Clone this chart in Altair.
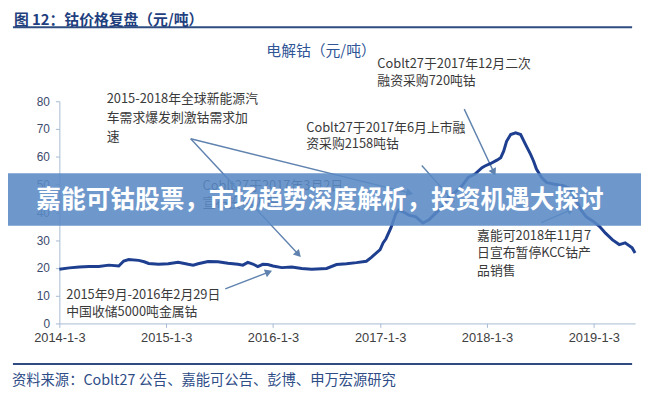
import altair as alt
import pandas as pd

# ---- series data (electrolytic cobalt price, axis unit as printed) ----
dates = [
    "2014-01-03", "2014-02-06", "2014-03-12", "2014-04-14", "2014-05-18", "2014-06-21",
    "2014-07-25", "2014-08-11", "2014-08-28", "2014-10-01", "2014-10-20", "2014-11-04",
    "2014-12-08", "2015-01-10", "2015-02-13", "2015-03-19", "2015-04-05", "2015-04-22",
    "2015-05-26", "2015-06-29", "2015-08-02", "2015-09-05", "2015-09-22", "2015-10-09",
    "2015-10-26", "2015-11-12", "2015-11-29", "2015-12-16", "2016-01-03", "2016-02-02",
    "2016-03-07", "2016-04-10", "2016-05-14", "2016-05-31", "2016-07-04", "2016-08-07",
    "2016-09-10", "2016-10-14", "2016-11-17", "2016-12-04", "2017-01-03", "2017-01-13",
    "2017-01-23", "2017-02-09", "2017-02-26", "2017-03-08", "2017-03-22", "2017-04-11",
    "2017-05-05", "2017-05-29", "2017-06-18", "2017-07-12", "2017-08-04", "2017-08-25",
    "2017-09-17", "2017-10-10", "2017-10-31", "2017-11-23", "2017-12-17", "2017-12-27",
    "2018-01-16", "2018-02-06", "2018-02-19", "2018-03-01", "2018-03-11", "2018-03-25",
    "2018-04-11", "2018-04-28", "2018-05-15", "2018-06-01", "2018-06-11", "2018-06-21",
    "2018-07-08", "2018-07-25", "2018-08-18", "2018-09-21", "2018-10-15", "2018-11-04",
    "2018-11-21", "2018-12-08", "2019-01-03", "2019-01-23", "2019-02-12", "2019-03-08",
    "2019-03-31", "2019-04-20", "2019-05-14", "2019-05-24",
]
prices = [
    19.5, 20.0, 20.3, 20.5, 20.5, 21.0,
    20.7, 22.5, 23.0, 22.7, 22.2, 21.6,
    21.3, 21.5, 22.0, 21.3, 21.0, 21.5,
    22.3, 22.2, 21.7, 21.3, 21.0, 22.0,
    21.4, 20.5, 21.3, 21.2, 20.7, 20.1,
    20.3, 19.8, 19.5, 19.6, 19.8, 21.2,
    21.5, 21.9, 22.4, 23.8, 26.6, 29.0,
    30.5, 34.5, 39.7, 40.8, 40.2, 39.0,
    38.4, 36.2, 37.2, 39.7, 42.0, 45.5,
    47.3, 49.6, 52.6, 53.8, 56.1, 56.7,
    57.6, 58.8, 59.7, 62.0, 65.6, 68.0,
    68.6, 68.0, 64.4, 60.9, 58.5, 55.6,
    52.6, 50.8, 50.2, 49.6, 48.5, 44.3,
    40.8, 38.4, 36.6, 34.9, 32.5, 30.1,
    28.4, 29.0, 27.2, 25.4,
]
tick_years = [2014, 2015, 2016, 2017, 2018, 2019]
y_ticks = [0, 10, 20, 30, 40, 50, 60, 70, 80]

header_title = "图 12：钴价格复盘（元/吨）"
chart_title = "电解钴（元/吨）"
banner_text = "嘉能可钴股票，市场趋势深度解析，投资机遇大探讨"
source_text = "资料来源：Coblt27 公告、嘉能可公告、彭博、申万宏源研究"

note_lines = [
    "2015-2018年全球新能源汽", "车需求爆发刺激钴需求加", "速",
    "Coblt27于2017年3月2日", "宣布投资入股",
    "2015年9月-2016年2月29日", "中国收储5000吨金属钴",
    "Coblt27于2017年6月上市融", "资采购2158吨钴",
    "Coblt27于2017年12月二次", "融资采购720吨钴",
    "嘉能可2018年11月7", "日宣布暂停KCC钴产", "品销售",
]
# layout (pixel positions relative to the plot area)
note_px = [48, 48, 48, 145, 145, 7, 7, 250, 250, 322, 322, 423, 423, 423]
note_py = [-2, 17, 36, 86, 103, 196, 213, 27, 43, -38, -20, 136, 154, 172]

arrow_x1 = [133, 133, 168, 367, 410, 488]
arrow_y1 = [38, 38, 190, 65, 8, 123]
arrow_x2 = [242, 355, 212, 398, 440, 518]
arrow_y2 = [155, 93, 173, 100, 72, 110]
arrow_ang = [47, 14, 339, 48, 64, 336]

W, H = 583, 225
FONT_CJK = "Noto Sans CJK SC"

df = pd.DataFrame({"date": dates, "price": prices})

line = alt.Chart(df).mark_line(color="#1E3F8F", strokeWidth=3, clip=False).encode(
    x=alt.X(
        "date:T",
        scale=alt.Scale(type="utc", domain=[alt.DateTime(year=2014, month=1, date=3, utc=True),
                                            alt.DateTime(year=2019, month=5, date=24, utc=True)]),
        axis=alt.Axis(
            title=None,
            values=[alt.DateTime(year=y, month=1, date=3, utc=True) for y in tick_years],
            labelExpr="utcyear(datum.value) + '-' + (utcmonth(datum.value) + 1) + '-' + utcdate(datum.value)",
            grid=False,
            domainColor="#A7BAD2",
            tickColor="#A7BAD2",
            tickSize=4,
            labelFont="Liberation Sans",
            labelFontSize=13,
            labelColor="#404040",
            labelPadding=4,
            labelFlush=False,
        ),
    ),
    y=alt.Y(
        "price:Q",
        scale=alt.Scale(domain=[0, 80], nice=False),
        axis=alt.Axis(
            title=None,
            values=y_ticks,
            grid=False,
            domainColor="#A7BAD2",
            tickColor="#A7BAD2",
            tickSize=4,
            labelFont="Liberation Sans",
            labelFontSize=12,
            labelColor="#3B4A6B",
            labelPadding=6,
        ),
    ),
)

notes_df = pd.DataFrame({"t": note_lines, "px": note_px, "py": note_py})
notes = alt.Chart(notes_df).mark_text(
    align="left", baseline="middle", font=FONT_CJK, fontSize=13, color="#3A3A3A"
).encode(
    x=alt.X("px:Q", scale=None, axis=None),
    y=alt.Y("py:Q", scale=None, axis=None),
    text="t:N",
)

arr_df = pd.DataFrame({"x1": arrow_x1, "y1": arrow_y1, "x2": arrow_x2, "y2": arrow_y2, "ang": arrow_ang})
arrows = alt.Chart(arr_df).mark_rule(color="#5F82AE", strokeWidth=1.4).encode(
    x=alt.X("x1:Q", scale=None, axis=None),
    y=alt.Y("y1:Q", scale=None, axis=None),
    x2="x2:Q",
    y2="y2:Q",
)
heads = alt.Chart(arr_df).mark_point(
    shape="triangle-right", filled=True, color="#5F82AE", opacity=1, size=70
).encode(
    x=alt.X("x2:Q", scale=None, axis=None),
    y=alt.Y("y2:Q", scale=None, axis=None),
    angle=alt.Angle("ang:Q", scale=None),
)

deco_lines = pd.DataFrame({"x1": [-47, -47], "x2": [580, 580], "y1": [-75, 266], "y2": [-75, 266]})
rules = alt.Chart(deco_lines).mark_rule(color="#2E4C80", strokeWidth=2).encode(
    x=alt.X("x1:Q", scale=None, axis=None),
    x2="x2:Q",
    y=alt.Y("y1:Q", scale=None, axis=None),
)

banner_df = pd.DataFrame({"x1": [-60], "x2": [590], "y1": [73], "y2": [126]})
banner = alt.Chart(banner_df).mark_rect(color="#5A8AC5", opacity=0.88).encode(
    x=alt.X("x1:Q", scale=None, axis=None),
    x2="x2:Q",
    y=alt.Y("y1:Q", scale=None, axis=None),
    y2="y2:Q",
)

header = alt.Chart(pd.DataFrame({"t": [header_title], "px": [-46], "py": [-82]})).mark_text(
    align="left", baseline="middle", font=FONT_CJK, fontSize=15, fontWeight="bold", color="#1F3F7F"
).encode(x=alt.X("px:Q", scale=None, axis=None), y=alt.Y("py:Q", scale=None, axis=None), text="t:N")

ctitle = alt.Chart(pd.DataFrame({"t": [chart_title], "px": [265], "py": [-51]})).mark_text(
    align="center", baseline="middle", font=FONT_CJK, fontSize=15, color="#2F5597"
).encode(x=alt.X("px:Q", scale=None, axis=None), y=alt.Y("py:Q", scale=None, axis=None), text="t:N")

source = alt.Chart(pd.DataFrame({"t": [source_text], "px": [-48], "py": [283]})).mark_text(
    align="left", baseline="middle", font=FONT_CJK, fontSize=14.5, color="#2E4C86"
).encode(x=alt.X("px:Q", scale=None, axis=None), y=alt.Y("py:Q", scale=None, axis=None), text="t:N")

btext = alt.Chart(pd.DataFrame({"t": [banner_text], "px": [264], "py": [100]})).mark_text(
    align="center", baseline="middle", font=FONT_CJK, fontSize=25, fontWeight="bold", color="#FFFFFF"
).encode(x=alt.X("px:Q", scale=None, axis=None), y=alt.Y("py:Q", scale=None, axis=None), text="t:N")

chart = alt.layer(
    rules, header, ctitle, source, notes, arrows, heads, line, banner, btext
).resolve_scale(x="independent", y="independent").properties(
    width=W,
    height=H,
    autosize=alt.AutoSizeParams(type="none"),
    padding={"left": 52, "top": 92, "right": 6, "bottom": 67},
).configure_view(stroke=None)

chart.save("out.html", embed_options={"renderer": "svg", "actions": False})
